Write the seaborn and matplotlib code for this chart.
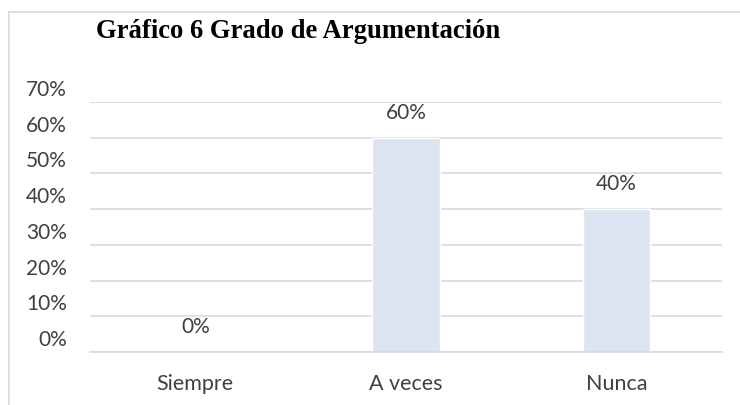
"""Gráfico 6: Grado de Argumentación (bar chart of percentages)."""

import matplotlib
matplotlib.use("Agg")
import matplotlib.pyplot as plt
import matplotlib.transforms as mtransforms
import pandas as pd
import seaborn as sns

categories = ["Siempre", "A veces", "Nunca"]
values = [0.0, 0.60, 0.40]
value_labels = ["0%", "60%", "40%"]
y_ticks = [0.0, 0.1, 0.2, 0.3, 0.4, 0.5, 0.6, 0.7]
y_tick_labels = ["0%", "10%", "20%", "30%", "40%", "50%", "60%", "70%"]
title = "Gráfico 6 Grado de Argumentación"

sns.set_theme(style="white")
plt.rcParams["font.family"] = ["Lato", "DejaVu Sans"]

W, H, DPI = 740, 405, 100
fig = plt.figure(figsize=(W / DPI, H / DPI), dpi=DPI)
ax = fig.add_axes([90 / W, (H - 352) / H, (722 - 90) / W, (352 - 102) / H])

df = pd.DataFrame({"cat": categories, "val": values})
sns.barplot(data=df, x="cat", y="val", color="#DCE4F2", saturation=1, width=0.32, ax=ax)

ax.set_ylim(0, 0.7)
ax.set_xlim(-0.5, 2.5)
ax.set_yticks(y_ticks)
ax.set_yticklabels(y_tick_labels)
ax.yaxis.grid(True, color="#D9D9D9", linewidth=1.2)
ax.set_axisbelow(True)
for s in ("top", "right", "left"):
    ax.spines[s].set_visible(False)
ax.spines["bottom"].set_color("#D9D9D9")
ax.spines["bottom"].set_linewidth(1.2)
ax.set_xlabel("")
ax.set_ylabel("")
ax.tick_params(axis="y", length=0, pad=16.5, labelsize=15, labelcolor="#404040")
ax.tick_params(axis="x", length=0, pad=16, labelsize=15.5, labelcolor="#404040")

# y labels in the original sit above their gridlines
shift = mtransforms.ScaledTranslation(0, 14 / DPI, fig.dpi_scale_trans)
for lab in ax.get_yticklabels():
    lab.set_transform(lab.get_transform() + shift)

for patch, txt in zip(ax.patches, value_labels):
    xc = patch.get_x() + patch.get_width() / 2
    ax.annotate(txt, (xc, patch.get_height()), xytext=(0, 18), textcoords="offset points",
                ha="center", va="center", fontsize=15, color="#404040")

fig.text(96 / W, 1 - 32 / H, title, fontsize=19.2, fontweight="bold",
         family="Liberation Serif", ha="left", va="center", color="black")

# outer frame lines (top and left)
fig.add_artist(plt.Line2D([9 / W, 1], [1 - 12 / H, 1 - 12 / H], color="#D9D9D9", linewidth=1.2,
                          transform=fig.transFigure))
fig.add_artist(plt.Line2D([9 / W, 9 / W], [0, 1 - 12 / H], color="#D9D9D9", linewidth=1.2,
                          transform=fig.transFigure))

fig.savefig("out.png", dpi=DPI)
